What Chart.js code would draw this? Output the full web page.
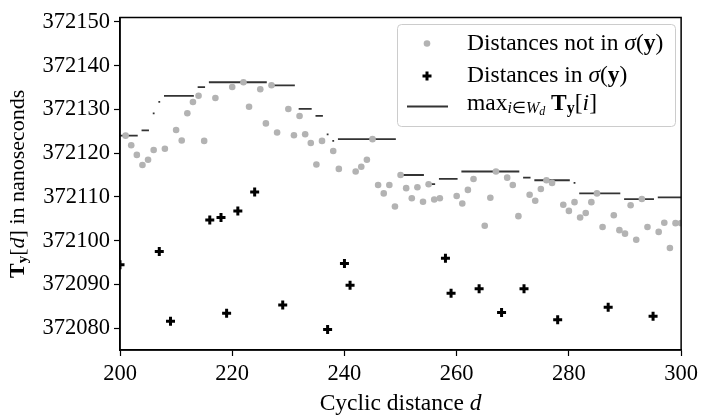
<!DOCTYPE html>
<html>
<head>
<meta charset="utf-8">
<script src="https://cdn.jsdelivr.net/npm/chart.js@4.4.1/dist/chart.umd.min.js"></script>
<style>
  html, body { margin: 0; padding: 0; background: #fff; }
</style>
</head>
<body>
<canvas id="chart" width="703" height="417"></canvas>
<script>
// tick labels
const xTicks = [200, 220, 240, 260, 280, 300];
const yTicks = [372080, 372090, 372100, 372110, 372120, 372130, 372140, 372150];

// distances not in sigma(y) (grey dots)
const notInD = [201, 202, 203, 204, 205, 206, 208, 210, 211, 212, 213, 214, 215, 217, 220, 222, 223, 225, 226, 227,
  228, 230, 231, 232, 233, 234, 235, 236, 238, 239, 242, 243, 244, 245, 246, 247, 248, 249, 250, 251,
  252, 253, 254, 255, 256, 257, 260, 261, 262, 263, 265, 266, 267, 269, 270, 271, 273, 274, 275, 276,
  277, 279, 280, 281, 282, 283, 284, 285, 286, 288, 289, 290, 291, 292, 293, 294, 296, 297, 298, 299, 300];
const notInValues = [372124.0, 372121.8, 372119.6, 372117.3, 372118.5, 372120.7, 372121.0, 372125.3, 372122.9, 372129.1,
  372131.7, 372133.1, 372122.8, 372132.6, 372135.1, 372136.2, 372130.6, 372134.6, 372126.8, 372135.5,
  372124.7, 372130.1, 372124.1, 372128.5, 372124.3, 372122.3, 372117.4, 372122.8, 372120.5, 372116.4,
  372115.8, 372116.9, 372118.5, 372123.2, 372112.7, 372110.8, 372112.7, 372107.8, 372115.0, 372112.0,
  372109.7, 372112.2, 372108.9, 372112.9, 372109.4, 372109.7, 372110.2, 372108.5, 372111.6, 372114.1,
  372103.4, 372109.8, 372115.8, 372114.4, 372112.7, 372105.6, 372110.5, 372109.1, 372111.8, 372113.8,
  372113.2, 372108.2, 372106.8, 372108.8, 372105.3, 372106.3, 372108.8, 372110.8, 372103.1, 372105.8,
  372102.4, 372101.6, 372108.1, 372100.2, 372109.5, 372103.1, 372102.0, 372104.1, 372098.3, 372104.0, 372104.0];

// distances in sigma(y) (black plus)
const inD = [200, 207, 209, 216, 218, 219, 221, 224, 229, 237, 240, 241, 258, 259, 264, 268, 272, 278, 287, 295];
const inValues = [372094.5, 372097.5, 372081.6, 372104.7, 372105.3, 372083.4, 372106.8, 372111.1, 372085.3, 372079.7,
  372094.8, 372089.8, 372096.0, 372088.0, 372089.0, 372083.6, 372089.0, 372081.9, 372084.8, 372082.7];

// window maximum, constant pieces
const maxStart = [200, 204, 206, 207, 208, 214, 216, 227, 232, 235, 237, 238, 239, 250, 255, 257, 261, 272, 274, 281, 282, 290, 296];
const maxEnd   = [203, 205, 206, 207, 213, 215, 226, 231, 234, 236, 237, 238, 249, 254, 256, 260, 271, 273, 280, 281, 289, 295, 300];
const maxValues = [372124.0, 372125.2, 372129.1, 372131.7, 372133.1, 372135.1, 372136.2, 372135.5, 372130.1, 372128.5,
  372124.3, 372122.8, 372123.2, 372115.0, 372112.9, 372114.1, 372115.8, 372114.4, 372113.8, 372113.2,
  372110.8, 372109.5, 372109.9];

const serif = '"Liberation Serif", "Times New Roman", serif';
const GREY = '#b3b3b3';
const LINE = '#333333';

const notInPts = notInD.map((d, i) => ({ x: d, y: notInValues[i] }));
const inPts = inD.map((d, i) => ({ x: d, y: inValues[i] }));
const maxPts = [];
maxStart.forEach((s, i) => {
  maxPts.push({ x: s, y: maxValues[i] });
  maxPts.push({ x: maxEnd[i], y: maxValues[i] });
  maxPts.push({ x: maxEnd[i], y: null });
});

const f = (size, style, weight) => `${style || 'normal'} ${weight || 'normal'} ${size}px ${serif}`;

function richWidth(ctx, parts) {
  let w = 0;
  for (const p of parts) { ctx.font = p.f; w += ctx.measureText(p.t).width; }
  return w;
}
function rich(ctx, x, y, parts) {
  for (const p of parts) {
    ctx.font = p.f;
    ctx.fillText(p.t, x, y + (p.dy || 0));
    x += ctx.measureText(p.t).width;
  }
}

const TS = 23.5; // text size
const YS = 22;   // y title size
const sigmaParts = pre => [
  { t: pre, f: f(TS) }, { t: 'σ', f: f(TS, 'italic') }, { t: '(', f: f(TS) },
  { t: 'y', f: f(TS, 'normal', 'bold') }, { t: ')', f: f(TS) }
];
const maxParts = [
  { t: 'max', f: f(TS) },
  { t: 'i', f: f(16, 'italic'), dy: 5 }, { t: '∈', f: f(16), dy: 5 }, { t: 'W', f: f(16, 'italic'), dy: 5 },
  { t: 'd', f: f(12, 'italic'), dy: 8 },
  { t: ' ', f: f(TS) },
  { t: 'T', f: f(TS, 'normal', 'bold') }, { t: 'y', f: f(16, 'normal', 'bold'), dy: 5 },
  { t: '[', f: f(TS) }, { t: 'i', f: f(TS, 'italic') }, { t: ']', f: f(TS) }
];
const yTitleParts = [
  { t: 'T', f: f(YS, 'normal', 'bold') }, { t: 'y', f: f(15, 'normal', 'bold'), dy: 5 },
  { t: '[', f: f(YS) }, { t: 'd', f: f(YS, 'italic') }, { t: ']', f: f(YS) },
  { t: ' in nanoseconds', f: f(YS) }
];
const xTitleParts = [{ t: 'Cyclic distance ', f: f(TS) }, { t: 'd', f: f(TS, 'italic') }];

const decor = {
  id: 'decor',
  afterDraw(chart) {
    const ctx = chart.ctx;
    const a = chart.chartArea;
    ctx.save();
    // frame
    ctx.strokeStyle = '#000';
    ctx.lineWidth = 1.5;
    ctx.strokeRect(a.left, a.top, a.right - a.left, a.bottom - a.top);

    ctx.fillStyle = '#000';
    ctx.textBaseline = 'middle';
    // x title
    const xw = richWidth(ctx, xTitleParts);
    rich(ctx, (a.left + a.right) / 2 - xw / 2, 404, xTitleParts);
    // y title
    ctx.save();
    ctx.translate(18, (a.top + a.bottom) / 2);
    ctx.rotate(-Math.PI / 2);
    const yw = richWidth(ctx, yTitleParts);
    rich(ctx, -yw / 2, 0, yTitleParts);
    ctx.restore();

    // legend
    ctx.beginPath();
    ctx.roundRect(397.5, 24.5, 278, 102, 4);
    ctx.fillStyle = 'rgba(255,255,255,0.8)';
    ctx.fill();
    ctx.strokeStyle = '#cccccc';
    ctx.lineWidth = 1;
    ctx.stroke();

    ctx.fillStyle = GREY;
    ctx.beginPath();
    ctx.arc(427, 43.5, 3.3, 0, Math.PI * 2);
    ctx.fill();

    ctx.strokeStyle = '#000';
    ctx.lineWidth = 3;
    ctx.beginPath();
    ctx.moveTo(422.5, 76); ctx.lineTo(431.5, 76);
    ctx.moveTo(427, 71.5); ctx.lineTo(427, 80.5);
    ctx.stroke();

    ctx.strokeStyle = LINE;
    ctx.lineWidth = 1.8;
    ctx.beginPath();
    ctx.moveTo(407, 106.5); ctx.lineTo(448, 106.5);
    ctx.stroke();

    ctx.fillStyle = '#000';
    rich(ctx, 467, 43.5, sigmaParts('Distances not in '));
    rich(ctx, 467, 76, sigmaParts('Distances in '));
    rich(ctx, 467, 104, maxParts);
    ctx.restore();
  }
};

new Chart(document.getElementById('chart'), {
  type: 'scatter',
  data: {
    datasets: [
      {
        label: 'Distances not in σ(y)',
        data: notInPts,
        pointStyle: 'circle',
        pointRadius: 3.3,
        pointBackgroundColor: GREY,
        pointBorderWidth: 0,
        order: 1
      },
      {
        label: 'Distances in σ(y)',
        data: inPts,
        pointStyle: 'cross',
        pointRadius: 4.5,
        pointBorderColor: '#000',
        pointBorderWidth: 3,
        order: 2
      },
      {
        type: 'line',
        label: 'max',
        data: maxPts,
        borderColor: LINE,
        borderWidth: 1.8,
        borderCapStyle: 'square',
        pointRadius: 0,
        spanGaps: false,
        fill: false,
        order: 3
      }
    ]
  },
  options: {
    responsive: false,
    animation: false,
    devicePixelRatio: 1,
    events: [],
    layout: { padding: { top: 12.7, right: 17, bottom: 0, left: 0 } },
    plugins: { legend: { display: false }, tooltip: { enabled: false } },
    scales: {
      x: {
        type: 'linear',
        min: 200,
        max: 300,
        afterBuildTicks: s => { s.ticks = xTicks.map(v => ({ value: v })); },
        afterFit: s => { s.height = 67; },
        grid: { drawOnChartArea: false, drawTicks: true, tickLength: 6, tickColor: '#000', tickWidth: 1.2 },
        border: { display: true, color: '#000', width: 1.5 },
        ticks: {
          color: '#000', padding: 5, maxRotation: 0, autoSkip: false,
          font: { family: serif, size: 22.5 },
          callback: v => String(v)
        }
      },
      y: {
        type: 'linear',
        min: 372075,
        max: 372151,
        afterBuildTicks: s => { s.ticks = yTicks.map(v => ({ value: v })); },
        afterFit: s => { s.width = 120; },
        grid: { drawOnChartArea: false, drawTicks: true, tickLength: 6, tickColor: '#000', tickWidth: 1.2 },
        border: { display: true, color: '#000', width: 1.5 },
        ticks: {
          color: '#000', padding: 4, autoSkip: false,
          font: { family: serif, size: 22.5 },
          callback: v => String(v)
        }
      }
    }
  },
  plugins: [decor]
});
</script>
</body>
</html>
